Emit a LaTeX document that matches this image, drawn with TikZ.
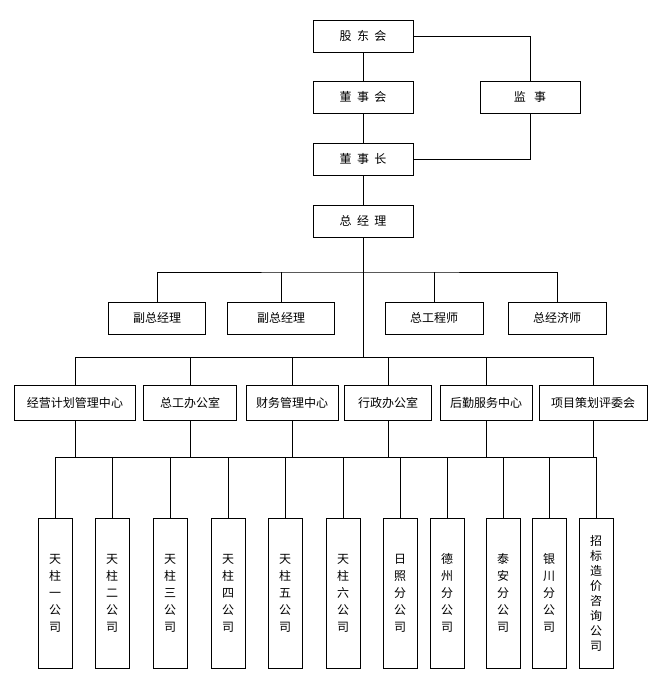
\documentclass[tikz,border=0pt]{standalone}
\usepackage{fontspec}
\newfontfamily\cjk{Noto Sans CJK SC}
\usetikzlibrary{positioning}
\tikzset{%
    box/.style={draw, line width=0.8pt, minimum height=32pt, inner sep=1pt, font=\cjk\fontsize{12}{14}\selectfont},
    topbox/.style={box, minimum width=100pt},
    midbox/.style={box, minimum height=35pt},
    subbox/.style={box, minimum width=34pt, minimum height=150pt, align=center, font=\cjk\fontsize{12}{17}\selectfont},
    link/.style={line width=0.6pt},
}
\begin{document}
\begin{tikzpicture}[x=1pt, y=-1pt]
    \useasboundingbox (0, 0) rectangle (652, 680);

    % 上层
    \node (gdh) [topbox] at (363, 36) {股\ \ 东\ \ 会};
    \node (dsh) [topbox] at (363, 97) {董\ \ 事\ \ 会};
    \node (js) [topbox] at (530, 97) {监\ \ \ 事};
    \node (dsz) [topbox] at (363, 159) {董\ \ 事\ \ 长};
    \node (zjl) [topbox] at (363, 221) {总\ \ 经\ \ 理};
    \draw [link] (gdh) -- (dsh);
    \draw [link] (dsh) -- (dsz);
    \draw [link] (dsz) -- (zjl);
    \draw [link] (gdh.east) -| (js.north);
    \draw [link] (js.south) |- (dsz.east);

    % 副职
    \node (fz1) [box, minimum width=97pt] at (157, 318) {副总经理};
    \node (fz2) [box, minimum width=107pt] at (281, 318) {副总经理};
    \node (zgcs) [box, minimum width=98pt] at (434, 318) {总工程师};
    \node (zjjs) [box, minimum width=98pt] at (557, 318) {总经济师};
    \coordinate (b1) at (363, 272);
    \draw [link] (zjl.south) -- (363, 357);
    \draw [link] (fz1.north) |- (b1) -| (zjjs.north);
    \draw [link] (fz2.north) -- (fz2.north |- b1);
    \draw [link] (zgcs.north) -- (zgcs.north |- b1);

    % 中心
    \node (m1) [midbox, minimum width=121pt] at (75, 403) {经营计划管理中心};
    \node (m2) [midbox, minimum width=93pt] at (190, 403) {总工办公室};
    \node (m3) [midbox, minimum width=92pt] at (292, 403) {财务管理中心};
    \node (m4) [midbox, minimum width=87pt] at (388, 403) {行政办公室};
    \node (m5) [midbox, minimum width=92pt] at (486, 403) {后勤服务中心};
    \node (m6) [midbox, minimum width=108pt] at (593, 403) {项目策划评委会};
    \coordinate (b2) at (363, 357);
    \foreach \n in {m1, m2, m3, m4, m5, m6} {%
            \draw [link] (\n.north) -- (\n.north |- b2);
        };
    \draw [link] (m1.north |- b2) -- (m6.north |- b2);

    % 分公司
    \coordinate (b3) at (363, 457);
    \foreach \n in {m1, m2, m3, m4, m5, m6} {%
            \draw [link] (\n.south) -- (\n.south |- b3);
        };
    \node (s1) [subbox] at (55, 593) {天\\柱\\一\\公\\司};
    \node (s2) [subbox] at (112, 593) {天\\柱\\二\\公\\司};
    \node (s3) [subbox] at (170, 593) {天\\柱\\三\\公\\司};
    \node (s4) [subbox] at (228, 593) {天\\柱\\四\\公\\司};
    \node (s5) [subbox] at (285, 593) {天\\柱\\五\\公\\司};
    \node (s6) [subbox] at (343, 593) {天\\柱\\六\\公\\司};
    \node (s7) [subbox] at (400, 593) {日\\照\\分\\公\\司};
    \node (s8) [subbox] at (447, 593) {德\\州\\分\\公\\司};
    \node (s9) [subbox] at (503, 593) {泰\\安\\分\\公\\司};
    \node (s10) [subbox] at (549, 593) {银\\川\\分\\公\\司};
    \node (s11) [subbox, font=\cjk\fontsize{12}{15}\selectfont] at (596, 593) {招\\标\\造\\价\\咨\\询\\公\\司};
    \foreach \n in {s1, s2, s3, s4, s5, s6, s7, s8, s9, s10, s11} {%
            \draw [link] (\n.north) -- (\n.north |- b3);
        };
    \draw [link] (s1.north |- b3) -- (s11.north |- b3);
\end{tikzpicture}
\end{document}
